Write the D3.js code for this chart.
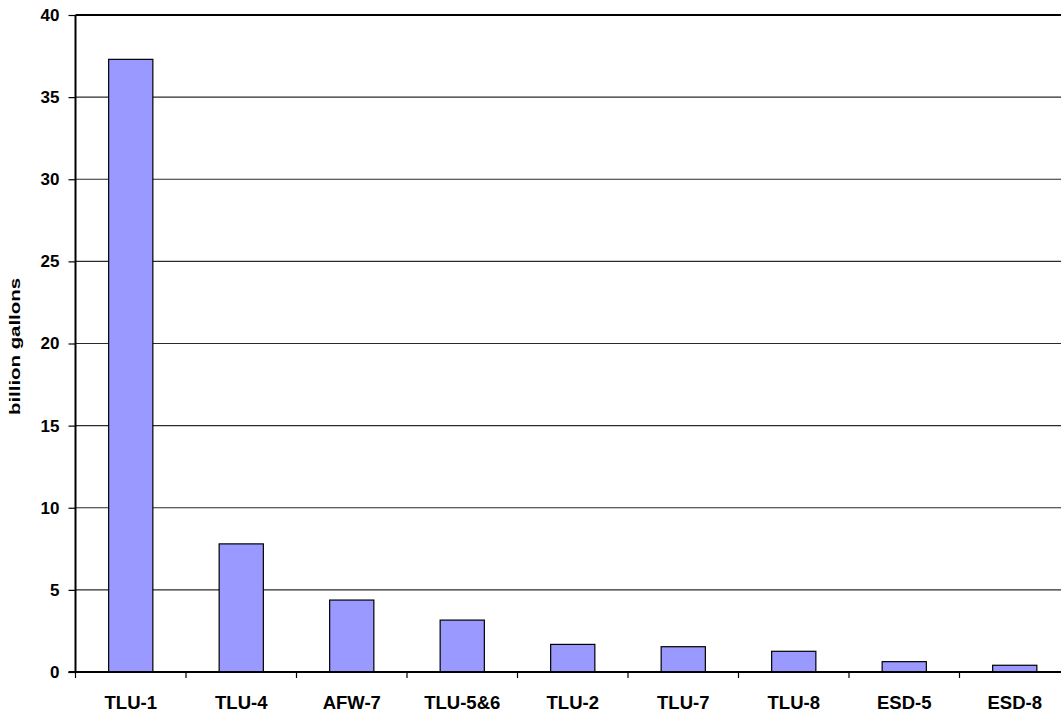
<!DOCTYPE html>
<html>
<head>
<meta charset="utf-8">
<script src="https://cdn.jsdelivr.net/npm/d3@7"></script>
<style>
  html, body { margin: 0; padding: 0; background: #fff; }
  svg { display: block; font-family: "Liberation Sans", Arial, sans-serif; }
</style>
</head>
<body>
<svg id="chart" width="1061" height="717"></svg>
<script>
// Water volume by unit, billion gallons
const categories = ["TLU-1", "TLU-4", "AFW-7", "TLU-5&6", "TLU-2", "TLU-7", "TLU-8", "ESD-5", "ESD-8"];
const values = [37.3, 7.8, 4.38, 3.16, 1.68, 1.54, 1.26, 0.63, 0.41];
const yTicks = [0, 5, 10, 15, 20, 25, 30, 35, 40];
const yLabel = "billion gallons";

const svg = d3.select("#chart");
const plotLeft = 75.5, plotRight = 1070, plotTop = 15, plotBottom = 672;

const x = d3.scaleBand()
  .domain(categories)
  .range([plotLeft, plotRight])
  .paddingInner(0.6)
  .paddingOuter(0.3);

const y = d3.scaleLinear().domain([0, 40]).range([plotBottom, plotTop]);

// horizontal gridlines
svg.append("g")
  .selectAll("line")
  .data(yTicks.filter(t => t > 0 && t < 40))
  .join("line")
  .attr("x1", plotLeft).attr("x2", plotRight)
  .attr("y1", d => y(d)).attr("y2", d => y(d))
  .attr("stroke", "#2a2a2a")
  .attr("stroke-width", 1.2);

// top border of the plot area
svg.append("line")
  .attr("x1", plotLeft).attr("x2", plotRight)
  .attr("y1", y(40)).attr("y2", y(40))
  .attr("stroke", "#000").attr("stroke-width", 2);

// bars
svg.append("g")
  .selectAll("rect")
  .data(categories.map((c, i) => ({ c, v: values[i] })))
  .join("rect")
  .attr("x", d => x(d.c))
  .attr("width", x.bandwidth())
  .attr("y", d => y(d.v))
  .attr("height", d => y(0) - y(d.v))
  .attr("fill", "#9999ff")
  .attr("stroke", "#000")
  .attr("stroke-width", 1.2);

// y axis
const yAxis = svg.append("g")
  .attr("transform", `translate(${plotLeft},0)`)
  .call(d3.axisLeft(y).tickValues(yTicks).tickSize(7).tickPadding(9).tickFormat(d3.format("d")));
yAxis.select(".domain").attr("stroke", "#000").attr("stroke-width", 2)
  .attr("d", `M0,${y(40)}V${y(0)}`);
yAxis.selectAll(".tick line").attr("stroke", "#000").attr("stroke-width", 1.2);
yAxis.selectAll(".tick text")
  .attr("font-size", 17).attr("font-weight", "bold").attr("fill", "#000")
  .attr("font-family", "Liberation Sans, Arial, sans-serif");

// x axis with boundary ticks between categories
const xAxis = svg.append("g").attr("transform", `translate(0,${plotBottom})`);
xAxis.append("line")
  .attr("x1", plotLeft - 7).attr("x2", plotRight)
  .attr("y1", 0).attr("y2", 0)
  .attr("stroke", "#000").attr("stroke-width", 2);
const step = x.step();
xAxis.selectAll("line.b")
  .data(d3.range(categories.length + 1))
  .join("line")
  .attr("class", "b")
  .attr("x1", i => plotLeft + i * step).attr("x2", i => plotLeft + i * step)
  .attr("y1", 0).attr("y2", 6)
  .attr("stroke", "#000").attr("stroke-width", 1.2);
xAxis.selectAll("text")
  .data(categories)
  .join("text")
  .attr("x", d => x(d) + x.bandwidth() / 2)
  .attr("y", 37)
  .attr("text-anchor", "middle")
  .attr("font-size", 18.5)
  .attr("font-weight", "bold")
  .attr("fill", "#000")
  .text(d => d);

// y axis title
svg.append("text")
  .attr("transform", `translate(20,346.5) rotate(-90)`)
  .attr("text-anchor", "middle")
  .attr("font-size", 15)
  .attr("font-weight", "bold")
  .attr("fill", "#000")
  .attr("textLength", 137)
  .attr("lengthAdjust", "spacingAndGlyphs")
  .text(yLabel);
</script>
</body>
</html>
